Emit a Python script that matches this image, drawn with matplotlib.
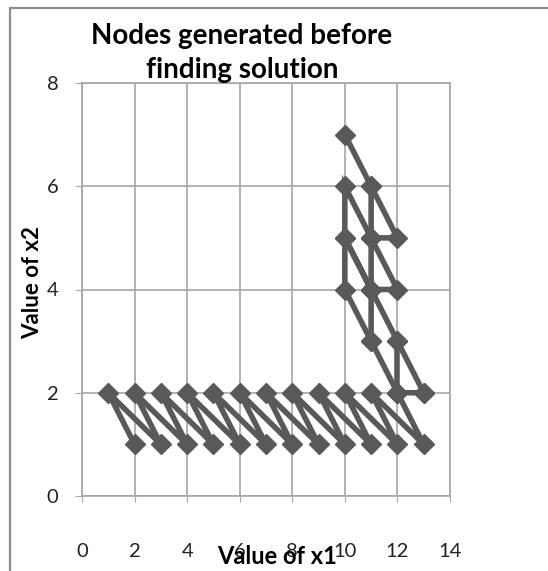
import numpy as np
import matplotlib.pyplot as plt
from matplotlib.patches import Rectangle

# Nodes generated before finding solution (x1, x2), drawn as connected paths
# lower zigzag: (k+1, 1) -> (k, 2) for k = 1..12, then (13, 2)
zig_x = [2, 1, 3, 2, 4, 3, 5, 4, 6, 5, 7, 6, 8, 7, 9, 8, 10, 9, 11, 10, 12, 11, 13, 12, 13]
zig_y = [1, 2, 1, 2, 1, 2, 1, 2, 1, 2, 1, 2, 1, 2, 1, 2, 1, 2, 1, 2, 1, 2, 1, 2, 2]

# upper branches
br_a_x = [10, 11, 12, 11, 12, 11, 12, 13]
br_a_y = [7, 6, 5, 5, 4, 4, 3, 2]
br_b_x = [11, 11, 11, 11, 12]
br_b_y = [6, 5, 4, 3, 2]
br_c_x = [11, 10, 10, 11, 10, 10, 11]
br_c_y = [5, 6, 5, 4, 5, 4, 3]
br_d_x = [12, 12]
br_d_y = [3, 2]

x_ticks = [0, 2, 4, 6, 8, 10, 12, 14]
y_ticks = [0, 2, 4, 6, 8]

W, H = 548, 571
plt.rcParams['font.family'] = ['Lato', 'DejaVu Sans']

fig = plt.figure(figsize=(W / 100, H / 100), dpi=100)
fig.patch.set_facecolor('white')

# chart area border (only left and top edges visible)
fig.add_artist(Rectangle((10 / W, -0.1), 1.2, (H - 8) / H + 0.1,
                         transform=fig.transFigure, fill=False,
                         edgecolor='#8c8c8c', linewidth=1.6))

ax = fig.add_axes([82 / W, (H - 496) / H, 368 / W, 413 / H])
ax.set_xlim(0, 14)
ax.set_ylim(0, 8)
ax.set_xticks(x_ticks)
ax.set_yticks(y_ticks)
ax.grid(True, color='#a6a6a6', linewidth=1.2)
ax.set_axisbelow(True)
for s in ax.spines.values():
    s.set_color('#a6a6a6')
    s.set_linewidth(1.2)

gray = '#595959'
style = dict(color=gray, linewidth=4, marker='D', markersize=10,
             markerfacecolor=gray, markeredgecolor=gray, clip_on=False,
             solid_joinstyle='miter')
for xs, ys in [(zig_x, zig_y), (br_a_x, br_a_y), (br_b_x, br_b_y),
               (br_c_x, br_c_y), (br_d_x, br_d_y)]:
    ax.plot(xs, ys, **style)

ax.tick_params(axis='x', length=4, color='#a6a6a6', pad=30, labelsize=14.5,
               labelcolor='#222222')
ax.tick_params(axis='y', length=5, color='#a6a6a6', pad=12, labelsize=14.5,
               labelcolor='#222222')

fig.text(242 / W, 1 - 36 / H, 'Nodes generated before',
         ha='center', va='center', fontsize=20, fontweight='bold')
fig.text(242 / W, 1 - 70 / H, 'finding solution',
         ha='center', va='center', fontsize=20, fontweight='bold')
fig.text(277 / W, 1 - 556 / H, 'Value of x1', ha='center', va='center',
         fontsize=17, fontweight='bold')
fig.text(33 / W, 1 - 283 / H, 'Value of x2', ha='center', va='center',
         rotation=90, fontsize=16, fontweight='bold')

fig.savefig('out.png', dpi=100)
